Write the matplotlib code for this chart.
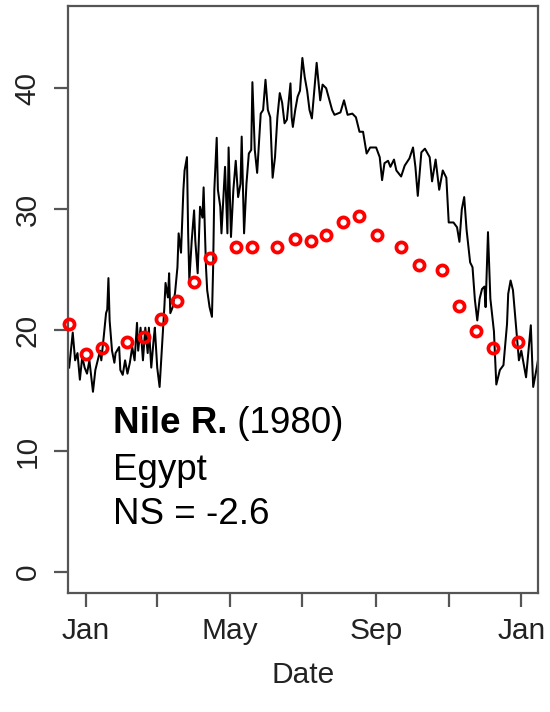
import numpy as np
import matplotlib
matplotlib.use("Agg")
import matplotlib.pyplot as plt
import matplotlib.dates as mdates

plt.rcParams['font.family'] = ['Liberation Sans', 'DejaVu Sans']

# Observed daily water temperature (day offset from 1980-01-01, deg C)
obs_day = [-14, -11, -9, -7, -5, -3, -1, 1, 3, 6, 8, 10, 12, 13, 15, 17, 18, 19, 20, 22,
           24, 25, 28, 29, 31, 33, 35, 37, 39, 41, 43, 44, 46, 48, 50, 52, 53, 55, 57, 58,
           60, 62, 64, 66, 67, 69, 70, 71, 73, 75, 77, 78, 80, 82, 83, 85, 86, 87, 89, 91,
           92, 94, 96, 98, 99, 101, 102, 104, 106, 107, 108, 110, 111, 113, 114, 116, 117, 119, 120, 122,
           124, 126, 128, 130, 131, 133, 135, 137, 139, 140, 142, 144, 146, 147, 149, 151, 153, 155, 157, 159,
           161, 163, 165, 167, 169, 172, 173, 174, 176, 178, 180, 182, 184, 186, 188, 190, 194, 197, 199, 202,
           207, 209, 214, 217, 220, 224, 227, 230, 233, 236, 239, 244, 247, 249, 251, 254, 256, 259, 261, 265,
           268, 272, 275, 277, 279, 282, 285, 289, 291, 294, 297, 300, 303, 305, 309, 312, 314, 316, 318, 320,
           323, 325, 327, 329, 331, 333, 335, 336, 338, 340, 343, 345, 348, 351, 354, 355, 357, 359, 361, 364,
           366, 370, 374, 376, 379, 380]
obs_temp = [16.9, 19.8, 17.5, 18.1, 15.9, 17.8, 16.9, 16.4, 17.5, 14.9, 16.7, 17.5, 18.3, 17.5, 19.4, 21.4, 21.7, 24.3, 20.8, 18.3,
            17.3, 18.1, 18.6, 16.7, 16.3, 17.5, 16.4, 17.3, 18.6, 17.5, 20.6, 18.3, 20.2, 17.5, 20.2, 18.1, 20.2, 16.9, 19.2, 20.2,
            16.9, 15.3, 18.6, 21.9, 23.9, 22.7, 24.7, 21.4, 21.9, 23.1, 25.2, 28.0, 26.4, 31.6, 33.2, 34.3, 28.0, 24.1, 27.4, 29.9,
            27.4, 24.7, 30.2, 29.3, 31.8, 25.2, 23.3, 21.9, 21.1, 25.2, 31.6, 35.9, 31.6, 30.2, 28.0, 31.6, 33.5, 28.0, 35.1, 27.7,
            31.6, 34.0, 31.0, 32.1, 36.0, 28.0, 32.1, 34.6, 34.9, 40.5, 34.9, 33.0, 36.3, 37.9, 38.2, 40.7, 38.2, 37.6, 32.6, 34.3,
            37.6, 39.6, 38.8, 37.1, 37.4, 40.4, 37.6, 36.8, 38.2, 39.3, 39.8, 42.5, 40.9, 39.8, 38.2, 37.5, 42.1, 39.0, 40.3, 40.0,
            38.2, 37.8, 38.0, 39.0, 37.8, 37.9, 37.6, 36.4, 36.4, 34.6, 35.1, 35.1, 34.3, 32.4, 33.8, 34.0, 33.5, 34.1, 33.2, 32.7,
            33.6, 34.2, 35.1, 33.5, 31.1, 34.7, 35.0, 34.3, 32.3, 34.1, 31.6, 33.2, 32.6, 28.9, 28.9, 28.5, 27.3, 30.0, 31.0, 28.3,
            25.6, 25.2, 22.5, 20.8, 22.6, 23.4, 23.6, 21.9, 28.1, 22.6, 19.9, 15.5, 16.7, 17.1, 20.5, 23.0, 24.1, 23.3, 21.0, 17.5,
            18.3, 16.1, 20.4, 15.3, 16.9, 17.5]

# Modelled temperature (red circles)
mod_day = [-14, 0, 14, 35, 49, 63, 77, 91, 104, 126, 140, 161, 176, 189, 202, 216, 230, 245,
           265, 280, 299, 314, 328, 342, 363]
mod_temp = [20.5, 18.0, 18.5, 19.0, 19.4, 20.9, 22.4, 24.0, 26.0, 26.9, 26.9, 26.9, 27.5, 27.4,
            27.9, 28.9, 29.4, 27.9, 26.9, 25.4, 25.0, 22.0, 19.9, 18.5, 19.0]

tick_dates = ['1980-01-01', '1980-03-01', '1980-05-01', '1980-07-01', '1980-09-01', '1980-11-01', '1981-01-01']
tick_labels = ['Jan', '', 'May', '', 'Sep', '', 'Jan']
y_ticks = [0, 10, 20, 30, 40]

base = np.datetime64('1980-01-01')
obs_x = base + np.array(obs_day).astype('timedelta64[D]')
mod_x = base + np.array(mod_day).astype('timedelta64[D]')

fig = plt.figure(figsize=(5.5, 7.12), dpi=100)
ax = fig.add_axes([0.1236, 0.1671, 0.8545, 0.8245])

ax.plot(obs_x, obs_temp, color='black', lw=1.45, zorder=2)
ax.plot(mod_x, mod_temp, linestyle='none', marker='o', ms=7.3, mfc='none',
        mec='#ff0000', mew=2.7, zorder=3, clip_on=False)

ax.set_xlim(base - np.timedelta64(15, 'D'), base + np.timedelta64(380, 'D'))
ax.set_ylim(-1.74, 46.8)

ax.set_xticks([mdates.date2num(np.datetime64(d)) for d in tick_dates])
ax.set_xticklabels(tick_labels)
ax.set_yticks(y_ticks)
ax.set_yticklabels([str(v) for v in y_ticks], rotation=90, va='center')

for s in ax.spines.values():
    s.set_color('#555555')
    s.set_linewidth(1.6)
ax.tick_params(axis='both', length=10, width=1.6, color='#555555',
               labelsize=21.5, labelcolor='#222222')
ax.tick_params(axis='x', pad=7)
ax.tick_params(axis='y', pad=9)

ax.set_xlabel('Date', fontsize=21.5, color='#222222', labelpad=12)

t1 = ax.text(0.0957, 0.2726, 'Nile R.', transform=ax.transAxes, fontsize=26.5,
             fontweight='bold', va='baseline', ha='left')
ax.annotate(' (1980)', xy=(1, 0), xycoords=t1, fontsize=26.5, va='bottom', ha='left')
ax.text(0.0957, 0.1925, 'Egypt', transform=ax.transAxes, fontsize=26.5, va='baseline', ha='left')
ax.text(0.0957, 0.1175, 'NS = -2.6', transform=ax.transAxes, fontsize=26.5, va='baseline', ha='left')

fig.savefig('out.png', dpi=100)
